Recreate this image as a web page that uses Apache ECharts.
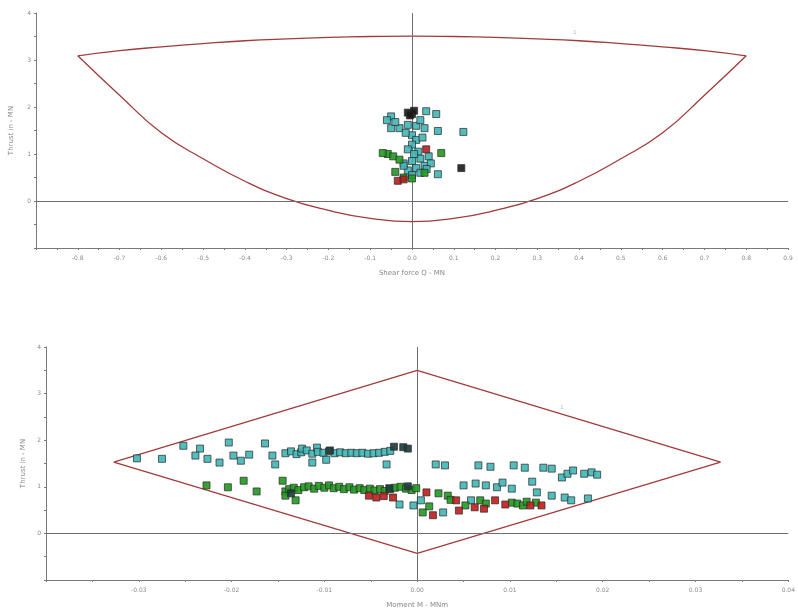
<!DOCTYPE html>
<html><head><meta charset="utf-8">
<script src="https://cdn.jsdelivr.net/npm/echarts@6/dist/echarts.min.js"></script>
<style>html,body{margin:0;padding:0;background:#fff}#c{width:798px;height:612px}</style>
</head><body><div id="c"></div>
<script>
// ---------- Top chart: Shear force Q vs Thrust N ----------
const envTopX = [-0.8,-0.7,-0.6,-0.5,-0.4,-0.3,-0.2,-0.1,0,0.1,0.2,0.3,0.4,0.5,0.6,0.7,0.8];
const envTopUpper = [3.09,3.20,3.28,3.35,3.41,3.45,3.48,3.50,3.51,3.50,3.48,3.45,3.41,3.35,3.28,3.20,3.09];
const envTopLower = [3.09,2.25,1.45,0.90,0.42,0.05,-0.20,-0.37,-0.44,-0.37,-0.20,0.05,0.42,0.90,1.45,2.25,3.09];

const topTeal = [[-0.05,1.80],[-0.06,1.72],[0.034,1.91],[0.058,1.85],[-0.05,1.55],[-0.03,1.55],[-0.01,1.62],[0.01,1.60],
  [0.03,1.55],[0.062,1.49],[0.123,1.47],[0.0,1.40],[0.01,1.30],[0.0,1.20],[-0.01,1.10],[0.015,1.05],[0.02,0.90],
  [0.0,0.85],[-0.02,0.80],[0.03,0.75],[0.01,0.70],[-0.01,0.65],[0.02,0.60],[0.062,0.57],[0.0,0.55],[-0.02,0.75],
  [0.04,0.95],[0.045,0.80],[-0.04,1.68],[0.02,1.72],[-0.015,1.45],[0.025,1.35],[0.005,1.00],[0.035,0.68]];
const topGreen = [[-0.058,1.00],[-0.07,1.02],[-0.045,0.95],[0.07,1.02],[-0.04,0.62],[-0.02,0.50],[0.0,0.48],[0.03,0.60],[-0.03,0.88]];
const topRed = [[-0.034,0.43],[-0.02,0.46],[0.034,1.10]];
const topBlack = [[-0.01,1.88],[0.0,1.85],[0.005,1.92],[-0.005,1.82],[0.118,0.70]];

// ---------- Bottom chart: Moment M vs Thrust N ----------
const envBotX = [-0.0327,0,0.0327,0,-0.0327];
const envBotY = [1.53,3.50,1.53,-0.43,1.53];

const botTeal = [[-0.0302,1.61],[-0.0275,1.60],[-0.0252,1.88],[-0.0234,1.82],[-0.0239,1.67],[-0.0226,1.60],[-0.0213,1.52],
  [-0.0203,1.95],[-0.0198,1.67],[-0.0190,1.56],[-0.0181,1.69],[-0.0164,1.93],[-0.0156,1.67],[-0.0153,1.48],
  [-0.0142,1.72],[-0.0136,1.76],[-0.0130,1.70],[-0.0125,1.74],[-0.0124,1.82],[-0.0119,1.78],[-0.0113,1.71],[-0.0113,1.52],
  [-0.0108,1.84],[-0.0107,1.75],[-0.0101,1.73],[-0.0098,1.58],[-0.0095,1.76],[-0.0089,1.72],[-0.0083,1.74],[-0.0077,1.72],
  [-0.0071,1.73],[-0.0065,1.72],[-0.0059,1.73],[-0.0053,1.71],[-0.0047,1.72],[-0.0041,1.73],[-0.0035,1.75],[-0.0033,1.48],
  [-0.0029,1.77],[-0.0019,0.62],[-0.0004,0.60],
  [0.0020,1.48],[0.0030,1.46],[0.0066,1.46],[0.0079,1.43],[0.0104,1.46],[0.0116,1.41],[0.0136,1.41],[0.0145,1.39],
  [0.0156,1.20],[0.0162,1.28],[0.0168,1.35],[0.0180,1.28],[0.0188,1.31],[0.0194,1.26],
  [0.0050,1.03],[0.0063,1.07],[0.0074,1.03],[0.0086,0.99],[0.0092,1.09],[0.0102,0.96],[0.0124,1.11],[0.0129,0.88],
  [0.0145,0.81],[0.0159,0.77],[0.0166,0.71],[0.0184,0.75],[0.0028,0.45],[0.0058,0.71],[0.0004,0.71]];
const botGreen = [[-0.0227,1.03],[-0.0204,0.99],[-0.0187,1.13],[-0.0173,0.90],
  [-0.0145,1.13],[-0.0142,0.90],[-0.0142,0.81],[-0.0138,0.95],[-0.0133,0.98],[-0.0131,0.71],[-0.0128,0.93],[-0.0122,0.99],
  [-0.0117,1.01],[-0.0111,0.96],[-0.0106,1.02],[-0.0100,0.98],[-0.0095,1.03],[-0.0090,0.97],[-0.0084,1.00],[-0.0079,0.95],
  [-0.0073,0.99],[-0.0068,0.94],[-0.0062,0.97],[-0.0057,0.93],[-0.0051,0.96],[-0.0046,0.92],[-0.0040,0.95],[-0.0035,0.91],
  [-0.0029,0.95],[-0.0024,0.98],[-0.0018,1.00],[-0.0012,0.96],[-0.0006,0.93],[-0.0001,0.97],
  [0.0023,0.86],[0.0033,0.81],[0.0052,0.60],[0.0068,0.71],[0.0074,0.64],[0.0102,0.66],[0.0108,0.64],[0.0114,0.60],
  [0.0006,0.45],[0.0013,0.58],[0.0036,0.72],[0.0118,0.68],[0.0128,0.66]];
const botRed = [[-0.0052,0.81],[-0.0044,0.77],[-0.0036,0.80],[-0.0026,0.77],[0.0010,0.88],[0.0042,0.71],[0.0045,0.49],
  [0.0072,0.53],[0.0084,0.71],[0.0122,0.60],[0.0134,0.60],[0.0017,0.39],[0.0062,0.56],[0.0095,0.62]];
const botBlack = [[-0.0025,1.86],[-0.0015,1.85],[-0.0010,1.82],[-0.0094,1.78],[-0.0030,0.97],[-0.0010,1.01],[-0.0136,0.86]];

const labelTop = [[0.39,3.58]];
const labelBot = [[0.0156,2.70]];

const yTicks = [-1,0,1,2,3,4];
const chart = echarts.init(document.getElementById('c'), null, {renderer:'canvas'});

const axisCol = '#7a7a7a';
function xAxisCfg(grid, min, max, interval, name, dec){
  return {type:'value', gridIndex:grid, min:min, max:max, interval:interval,
    name:name, nameLocation:'middle', nameGap:22,
    nameTextStyle:{fontSize:7, color:'#888', fontFamily:'DejaVu Sans'},
    axisLine:{onZero:false, lineStyle:{color:axisCol, width:1}},
    axisTick:{show:true, length:2, lineStyle:{color:axisCol}},
    minorTick:{show:true, splitNumber:2, length:2, lineStyle:{color:axisCol}},
    splitLine:{show:false},
    axisLabel:{fontSize:6, color:'#8a8a8a', margin:7, fontFamily:'DejaVu Sans',
      formatter:(v)=> (Math.abs(v-min)<1e-9 ? '' : v.toFixed(dec))}};
}
function yAxisCfg(grid, gap){
  return {type:'value', gridIndex:grid, min:-1, max:4, interval:1,
    name:'Thrust in - MN', nameLocation:'middle', nameGap:gap,
    nameTextStyle:{fontSize:7, color:'#888', fontFamily:'DejaVu Sans'},
    axisLine:{onZero:false, lineStyle:{color:axisCol, width:1}},
    axisTick:{show:true, length:2, lineStyle:{color:axisCol}},
    minorTick:{show:true, splitNumber:2, length:2, lineStyle:{color:axisCol}},
    splitLine:{show:false},
    axisLabel:{fontSize:6, color:'#8a8a8a', margin:5, fontFamily:'DejaVu Sans',
      formatter:(v)=> (v===-1 ? '' : String(v))}};
}
const envStyle = {color:'#a23a3a', width:1.3};
function sq(name, data, color, xi, yi){
  return {name:name, type:'scatter', xAxisIndex:xi, yAxisIndex:yi, data:data, symbol:'rect', symbolSize:7,
    itemStyle:{color:color, borderColor:'#2a2a2a', borderWidth:0.8, opacity:0.9}, z:5};
}
function refLines(xi, yi){
  return {type:'line', xAxisIndex:xi, yAxisIndex:yi, data:[], silent:true,
    markLine:{silent:true, symbol:['none','none'], label:{show:false},
      lineStyle:{color:'#6e6e6e', type:'solid', width:1}, data:[{xAxis:0},{yAxis:0}]}};
}

chart.setOption({
  animation:false,
  backgroundColor:'#ffffff',
  grid:[{left:36, right:10, top:13, height:235},
        {left:46, right:2, top:347, height:233}],
  xAxis:[xAxisCfg(0,-0.9,0.9,0.1,'Shear force Q - MN',1), xAxisCfg(1,-0.04,0.04,0.01,'Moment M - MNm',2)],
  yAxis:[yAxisCfg(0,21), yAxisCfg(1,17)],
  series:[
    refLines(0,0), refLines(1,1),
    {type:'line', xAxisIndex:0, yAxisIndex:0, data:envTopX.map((x,i)=>[x,envTopUpper[i]]), smooth:true, symbol:'none', lineStyle:envStyle},
    {type:'line', xAxisIndex:0, yAxisIndex:0, data:envTopX.map((x,i)=>[x,envTopLower[i]]), smooth:true, symbol:'none', lineStyle:envStyle},
    {type:'line', xAxisIndex:1, yAxisIndex:1, data:envBotX.map((x,i)=>[x,envBotY[i]]), symbol:'none', lineStyle:envStyle},
    sq('t-teal', topTeal, '#3fb6b6', 0,0), sq('t-green', topGreen, '#1f9a1f', 0,0),
    sq('t-red', topRed, '#b51e1e', 0,0), sq('t-black', topBlack, '#1a1a1a', 0,0),
    sq('b-teal', botTeal, '#3fb6b6', 1,1), sq('b-green', botGreen, '#1f9a1f', 1,1),
    sq('b-red', botRed, '#c01c1c', 1,1), sq('b-black', botBlack, '#1d3b3b', 1,1),
    {type:'scatter', xAxisIndex:0, yAxisIndex:0, data:labelTop, symbolSize:0,
      label:{show:true, formatter:'1', fontSize:5, color:'#999', position:'inside'}},
    {type:'scatter', xAxisIndex:1, yAxisIndex:1, data:labelBot, symbolSize:0,
      label:{show:true, formatter:'1', fontSize:5, color:'#999', position:'inside'}}
  ]
});
</script></body></html>
